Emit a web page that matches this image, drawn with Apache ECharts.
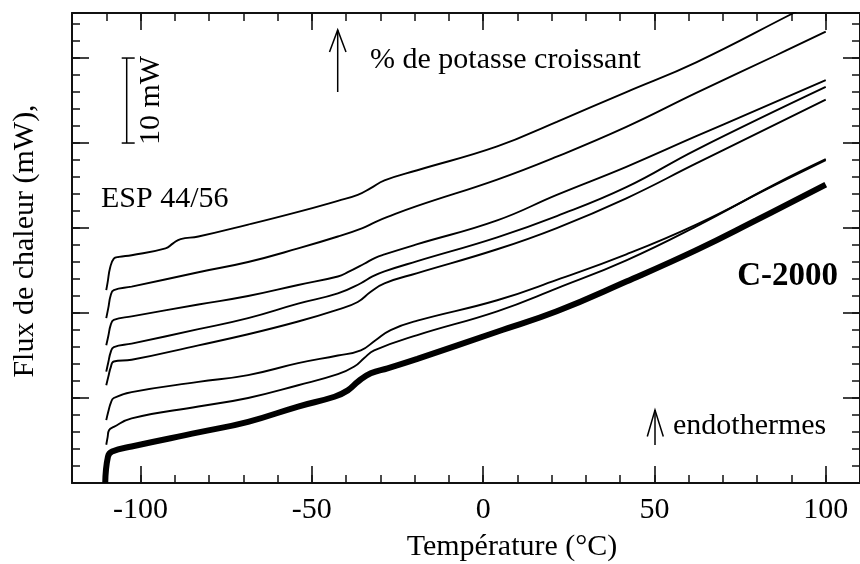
<!DOCTYPE html>
<html>
<head>
<meta charset="utf-8">
<script src="https://cdn.jsdelivr.net/npm/echarts@6/dist/echarts.min.js"></script>
<style>
  html, body { margin: 0; padding: 0; background: #fff; }
  #chart { width: 860px; height: 564px; }
</style>
</head>
<body>
<div id="chart"></div>
<script>
// DSC thermograms: temperature (°C) vs heat flow (mW), curves offset vertically.
const FONT = '"Liberation Serif", "Times New Roman", serif';

// Curves from highest to lowest potash content; [temperature, heat flow]
const curveEsp = [
  [-110, 22.7], [-109.6, 23.6], [-108.9, 25.3], [-107.8, 26.4], [-106.3, 26.6], [-102.6, 26.8],
  [-92.7, 27.6], [-90.5, 28.2], [-88.3, 28.7], [-83.1, 29.0], [-68.6, 30.4], [-54, 31.9],
  [-42.4, 33.2], [-36.6, 33.9], [-32.8, 34.7], [-28.8, 35.6], [-19.2, 36.8], [4.1, 39.6],
  [21.5, 42.5], [41.8, 46.0], [62.2, 49.5], [90.6, 55.3], [100, 57.2]
];
const curve2 = [
  [-110, 19.4], [-109.4, 20.6], [-108.7, 22.1], [-107.8, 22.7], [-102.6, 23.1], [-83.1, 24.8],
  [-68.6, 26.0], [-54, 27.6], [-42.4, 29.0], [-35.2, 30.0], [-31.5, 30.7], [-27.9, 31.3],
  [-19.2, 32.6], [4.1, 35.7], [21.5, 38.4], [41.8, 41.9], [62.2, 45.9], [85.4, 50.3], [100, 53.1]
];
const curve3 = [
  [-110, 16.2], [-109.4, 17.3], [-108.7, 18.6], [-107.8, 19.2], [-102.6, 19.6], [-83.1, 21.0],
  [-68.6, 22.0], [-54, 23.3], [-42.4, 24.3], [-39.5, 24.8], [-34.7, 25.8], [-31.5, 26.5],
  [-28.8, 26.9], [-19.2, 28.1], [4.1, 30.9], [21.5, 33.9], [41.8, 37.2], [62.2, 40.8], [100, 47.4]
];
const curve4 = [
  [-110, 13.1], [-109.4, 14.2], [-108.7, 15.4], [-107.8, 16.0], [-102.6, 16.4], [-83.1, 18.1],
  [-68.6, 19.4], [-54, 21.1], [-42.4, 22.3], [-35.7, 23.5], [-32.3, 24.3], [-28.8, 24.9],
  [-19.2, 26.1], [4.1, 28.9], [21.5, 31.4], [41.8, 34.8], [62.2, 39.2], [100, 46.6]
];
const curve5 = [
  [-110, 11.5], [-109.4, 12.5], [-108.7, 13.6], [-107.8, 14.3], [-102.6, 14.5], [-83.1, 16.2],
  [-68.6, 17.5], [-54, 19.0], [-42.4, 20.4], [-36.6, 21.3], [-32.8, 22.5], [-28.8, 23.5],
  [-19.2, 24.7], [4.1, 27.5], [21.5, 30.0], [41.8, 33.5], [62.2, 37.6], [100, 45.1]
];
const curve6 = [
  [-110, 7.4], [-109.4, 8.4], [-108.7, 9.4], [-107.8, 10.0], [-102.6, 10.7], [-83.1, 11.9],
  [-68.6, 12.7], [-54, 14.1], [-42.4, 15.0], [-35.7, 15.6], [-31.4, 16.8], [-27.0, 18.0],
  [-19.2, 19.1], [4.1, 21.5], [21.5, 23.9], [41.8, 26.9], [62.2, 30.4], [85.4, 35.1], [100, 38.0]
];
const curve7 = [
  [-110, 4.5], [-109.6, 5.4], [-109.2, 6.2], [-107.8, 6.6], [-102.6, 7.6], [-83.1, 9.0],
  [-68.6, 10.0], [-54, 11.5], [-42.4, 12.8], [-37.6, 13.7], [-34.7, 14.7], [-31.8, 15.6],
  [-19.2, 17.4], [4.1, 20.2], [21.5, 22.9], [41.8, 26.2], [62.2, 30.2], [85.4, 35.2], [100, 38.1]
];
const curveC2000 = [
  [-110.3, 0], [-109.5, 3.1], [-108.3, 3.7], [-102.6, 4.3], [-83.1, 5.95], [-68.6, 7.2],
  [-54, 9.0], [-43.4, 10.15], [-39.5, 10.9], [-36.3, 12.0], [-32.8, 12.9], [-27.9, 13.5],
  [-19.2, 14.6], [4.1, 17.8], [21.5, 20.2], [41.8, 23.7], [62.2, 27.4], [79.6, 30.9], [100, 35.1]
];

const thinCurves = [curveEsp, curve2, curve3, curve4, curve5, curve6, curve7];

// Axis ticks and ranges
const xTickLabels = [-100, -50, 0, 50, 100];
const xRange = [-120, 110];
const yRange = [0, 55.3];
const scaleBarRange = [40, 50];   // the "10 mW" bar

const AXIS_COLOR = '#111';

function xAxisDef(position, major) {
  return {
    type: 'value', position: position,
    min: xRange[0], max: xRange[1], interval: 10,
    axisLine: { show: !major, onZero: false, lineStyle: { color: AXIS_COLOR, width: 2 } },
    axisTick: major
      ? { inside: true, length: 17, customValues: xTickLabels, lineStyle: { color: AXIS_COLOR, width: 1.6 } }
      : { inside: true, length: 8, lineStyle: { color: AXIS_COLOR, width: 1.5 } },
    axisLabel: (major && position === 'bottom')
      ? { customValues: xTickLabels, fontFamily: FONT, fontSize: 30, color: '#000', margin: 12 }
      : { show: false },
    splitLine: { show: false }
  };
}

function yAxisDef(position, major) {
  return {
    type: 'value', position: position,
    min: yRange[0], max: yRange[1], interval: major ? 10 : 2,
    axisLine: { show: !major, onZero: false, lineStyle: { color: AXIS_COLOR, width: 2 } },
    axisTick: { inside: true, length: major ? 17 : 8, lineStyle: { color: AXIS_COLOR, width: major ? 1.6 : 1.5 } },
    axisLabel: { show: false },
    splitLine: { show: false }
  };
}

const series = thinCurves.map(function (d) {
  return {
    type: 'line', data: d, xAxisIndex: 0, yAxisIndex: 0,
    showSymbol: false, smooth: 0.45, silent: true,
    lineStyle: { color: '#000', width: 1.9 }
  };
});
series.push({
  type: 'line', data: curveC2000, xAxisIndex: 0, yAxisIndex: 0,
  showSymbol: false, smooth: 0.45, silent: true,
  lineStyle: { color: '#000', width: 6 }
});

function label(text, x, y, opts) {
  opts = opts || {};
  return {
    type: 'text', x: x, y: y, rotation: opts.rotation || 0, silent: true,
    style: {
      text: text, fill: '#000',
      fontFamily: FONT, fontSize: opts.size || 30, fontWeight: opts.weight || 'normal',
      align: opts.align || 'left', verticalAlign: 'middle'
    }
  };
}

function stroke(points) {
  return {
    type: 'polyline', silent: true,
    shape: { points: points },
    style: { stroke: '#000', lineWidth: 1.5, fill: null }
  };
}

const chart = echarts.init(document.getElementById('chart'), null, { renderer: 'canvas' });
chart.setOption({
  animation: false,
  backgroundColor: '#fff',
  grid: { left: 72, top: 13, width: 792, height: 470, containLabel: false },
  xAxis: [xAxisDef('bottom', false), xAxisDef('bottom', true), xAxisDef('top', false), xAxisDef('top', true)],
  yAxis: [yAxisDef('left', false), yAxisDef('left', true), yAxisDef('right', false), yAxisDef('right', true)],
  series: series
});

// Annotations; the scale bar height comes from the heat-flow axis
const yTop = chart.convertToPixel({ yAxisIndex: 0 }, scaleBarRange[1]);
const yBot = chart.convertToPixel({ yAxisIndex: 0 }, scaleBarRange[0]);
const barX = 126.7;

chart.setOption({
  graphic: [
    label('Température (°C)', 512, 547, { align: 'center' }),
    label('Flux de chaleur (mW),', 25, 241, { align: 'center', rotation: Math.PI / 2 }),
    label('% de potasse croissant', 370, 60),
    label('ESP 44/56', 101, 199),
    label('C-2000', 838, 276, { align: 'right', weight: 'bold', size: 33 }),
    label('endothermes', 673, 426),
    label('10 mW', 151, (yTop + yBot) / 2, { align: 'center', rotation: Math.PI / 2 }),
    stroke([[337.7, 92], [337.7, 30]]),
    stroke([[329.5, 52], [337.7, 30], [346, 52]]),
    stroke([[655, 445], [655, 410]]),
    stroke([[647.3, 436.5], [655, 410], [663.3, 436.5]]),
    stroke([[barX, yTop], [barX, yBot]]),
    stroke([[barX - 5, yTop], [barX + 8, yTop]]),
    stroke([[barX - 5, yBot], [barX + 8, yBot]])
  ]
});
</script>
</body>
</html>
